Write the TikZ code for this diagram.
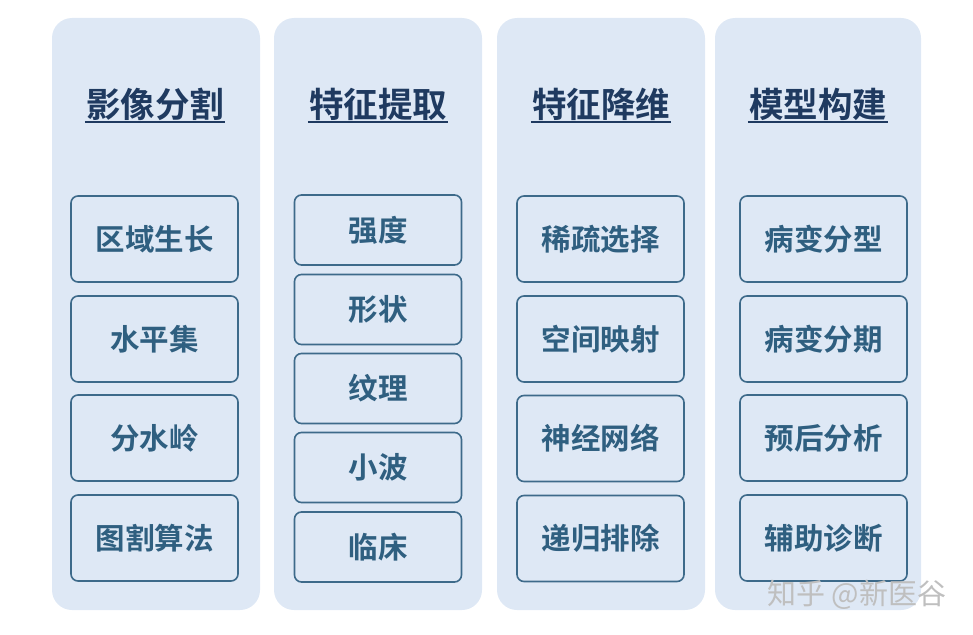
\documentclass[tikz,border=0pt]{standalone}
\usepackage{fontspec}
\setmainfont{Noto Sans CJK SC}
\newfontfamily\cjkb{Noto Sans CJK SC}[BoldFont={* Bold}]
\definecolor{panelfill}{HTML}{DEE8F5}
\definecolor{boxline}{HTML}{3D6A8A}
\definecolor{boxtext}{HTML}{2F5F80}
\definecolor{headtext}{HTML}{1F3A60}
\tikzset{
  panel/.style={fill=panelfill, draw=none, rounded corners=20pt},
  itembox/.style={draw=boxline, line width=1.6pt, rounded corners=7pt, fill=panelfill,
    minimum width=167pt, text=boxtext, font=\cjkb\bfseries\fontsize{29.5}{33}\selectfont, inner sep=0pt},
  tallbox/.style={itembox, minimum height=86pt},
  shortbox/.style={itembox, minimum height=70pt},
  header/.style={text=headtext, font=\cjkb\bfseries\fontsize{34.5}{38}\selectfont, inner sep=0pt},
  uline/.style={draw=headtext, line width=1.8pt},
  wm/.style={text=gray!50, font=\fontsize{29}{32}\selectfont, inner sep=0pt}
}
\begin{document}
\begin{tikzpicture}[x=1pt,y=-1pt]
\useasboundingbox (0,0) rectangle (973,634);
% panels
\path[panel] (52,18) rectangle (260,610);
\path[panel] (274,18) rectangle (482,610);
\path[panel] (497,18) rectangle (705,610);
\path[panel] (715,18) rectangle (921,610);
% headers
\node[header] (h1) at (155,104) {影像分割};
\node[header] (h2) at (378,104) {特征提取};
\node[header] (h3) at (601,104) {特征降维};
\node[header] (h4) at (818,104) {模型构建};
\foreach \h in {h1,h2,h3,h4}{
  \draw[uline] ([xshift=-1pt]\h.west |- 0,122) -- ([xshift=1pt]\h.east |- 0,122);
}
% column 1
\node[tallbox] (a1) at (154.5,239) {区域生长};
\node[tallbox] (a2) at (154.5,339) {水平集};
\node[tallbox] (a3) at (154.5,438) {分水岭};
\node[tallbox] (a4) at (154.5,538) {图割算法};
% column 2
\node[shortbox] (b1) at (378,230) {强度};
\node[shortbox] (b2) at (378,309.5) {形状};
\node[shortbox] (b3) at (378,388.5) {纹理};
\node[shortbox] (b4) at (378,467.5) {小波};
\node[shortbox] (b5) at (378,547) {临床};
% column 3
\node[tallbox] (c1) at (600.5,239) {稀疏选择};
\node[tallbox] (c2) at (600.5,339) {空间映射};
\node[tallbox] (c3) at (600.5,438.5) {神经网络};
\node[tallbox] (c4) at (600.5,538.5) {递归排除};
% column 4
\node[tallbox] (d1) at (823.5,239) {病变分型};
\node[tallbox] (d2) at (823.5,339) {病变分期};
\node[tallbox] (d3) at (823.5,438) {预后分析};
\node[tallbox] (d4) at (823.5,538) {辅助诊断};
% watermark
\node[wm, anchor=west] (wm) at (767,595) {知乎 @新医谷};
\end{tikzpicture}
\end{document}
